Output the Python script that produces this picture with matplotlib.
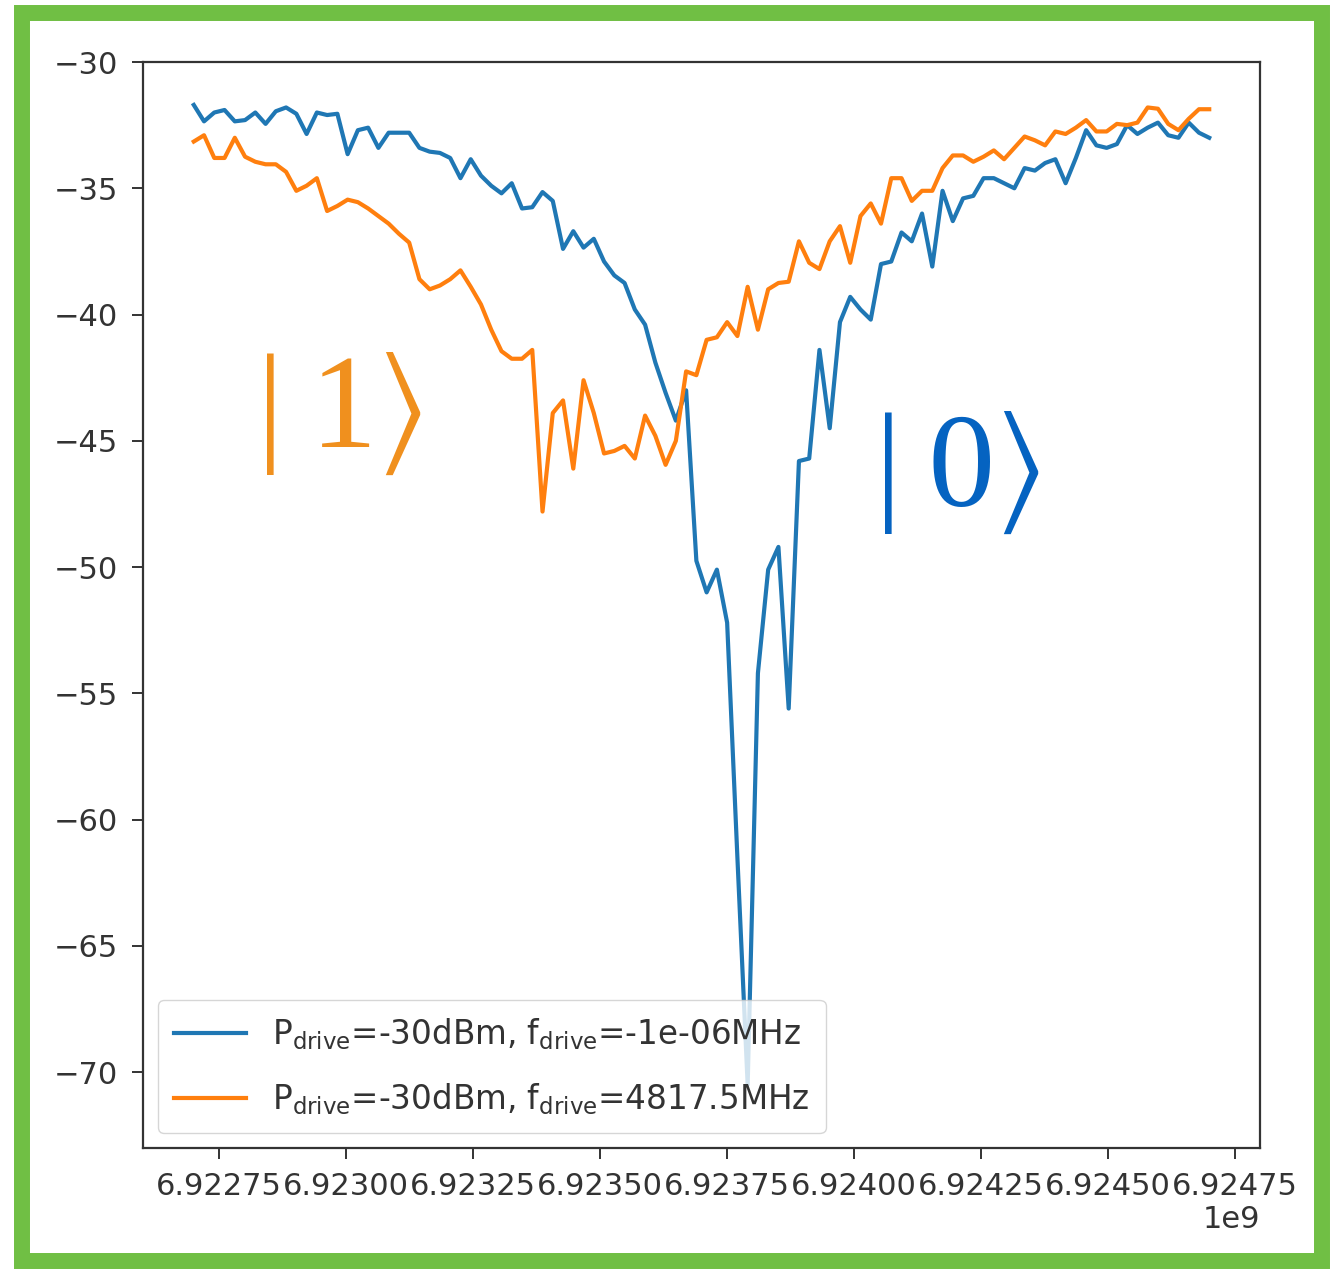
import numpy as np
import matplotlib.pyplot as plt
from matplotlib.patches import Rectangle

# frequency sweep (Hz)
freq = np.linspace(6.9227e9, 6.9247e9, 100)

# transmission (dB), qubit in |0>
s21_ground = [
    -31.7, -32.35, -32.0, -31.9, -32.35, -32.3, -32.0, -32.45, -31.95, -31.8,
    -32.05, -32.85, -32.0, -32.1, -32.05, -33.65, -32.7, -32.6, -33.4, -32.8,
    -32.8, -32.8, -33.4, -33.55, -33.6, -33.8, -34.6, -33.85, -34.5, -34.9,
    -35.2, -34.8, -35.8, -35.75, -35.15, -35.5, -37.4, -36.7, -37.35, -37.0,
    -37.9, -38.45, -38.75, -39.8, -40.4, -41.9, -43.1, -44.2, -43.0, -49.75,
    -51.0, -50.1, -52.2, -61.5, -70.5, -54.2, -50.1, -49.2, -55.6, -45.8,
    -45.7, -41.4, -44.5, -40.3, -39.3, -39.8, -40.2, -38.0, -37.9, -36.75,
    -37.1, -36.0, -38.1, -35.1, -36.3, -35.4, -35.3, -34.6, -34.6, -34.8,
    -35.0, -34.2, -34.3, -34.0, -33.85, -34.8, -33.8, -32.7, -33.3, -33.4,
    -33.25, -32.5, -32.85, -32.6, -32.4, -32.9, -33.0, -32.4, -32.8, -33.0,
]

# transmission (dB), qubit driven to |1>
s21_excited = [
    -33.15, -32.9, -33.8, -33.8, -33.0, -33.75, -33.95, -34.05, -34.05, -34.35,
    -35.1, -34.9, -34.6, -35.9, -35.7, -35.45, -35.55, -35.8, -36.1, -36.4,
    -36.8, -37.15, -38.6, -39.0, -38.85, -38.6, -38.25, -38.9, -39.6, -40.6,
    -41.45, -41.75, -41.75, -41.4, -47.8, -43.9, -43.4, -46.1, -42.6, -43.9,
    -45.5, -45.4, -45.2, -45.7, -44.0, -44.8, -45.95, -45.0, -42.25, -42.4,
    -41.0, -40.9, -40.3, -40.85, -38.9, -40.6, -39.0, -38.75, -38.7, -37.1,
    -37.95, -38.2, -37.1, -36.5, -37.95, -36.1, -35.6, -36.4, -34.6, -34.6,
    -35.5, -35.1, -35.1, -34.2, -33.7, -33.7, -33.95, -33.75, -33.5, -33.85,
    -33.4, -32.95, -33.1, -33.3, -32.75, -32.85, -32.6, -32.3, -32.75, -32.75,
    -32.45, -32.5, -32.4, -31.8, -31.85, -32.45, -32.7, -32.25, -31.87, -31.87,
]

labels = [r'$\mathrm{P_{drive}}$=-30dBm, $\mathrm{f_{drive}}$=-1e-06MHz',
          r'$\mathrm{P_{drive}}$=-30dBm, $\mathrm{f_{drive}}$=4817.5MHz']

fig = plt.figure(figsize=(13.33, 12.83), dpi=100)
ax = fig.add_axes([143/1333, 1 - 1148/1283, (1260-143)/1333, (1148-62)/1283])

ax.plot(freq, s21_ground, color='#1f77b4', lw=3, label=labels[0])
ax.plot(freq, s21_excited, color='#ff7f0e', lw=3, label=labels[1])

ax.set_ylim(-73, -30)
ax.set_xticks(np.arange(6.92275e9, 6.92476e9, 0.25e6))
ax.tick_params(labelsize=22, length=8, width=1.4, colors='#333333')
ax.tick_params(axis='y', pad=10)
ax.tick_params(axis='x', pad=9)
ax.xaxis.get_offset_text().set_fontsize(22)
ax.xaxis.get_offset_text().set_color('#333333')
for s in ax.spines.values():
    s.set_linewidth(1.6)
    s.set_color('#333333')

leg = ax.legend(loc='lower left', fontsize=23.5, handlelength=2.2,
                borderpad=0.5, labelspacing=0.9, handletextpad=0.8,
                borderaxespad=0.45)
for t in leg.get_texts():
    t.set_color('#333333')

# state labels
ket_font = ['Liberation Serif', 'STIXGeneral']
fig.text(344/1333, 1 - 413/1283, '|\u20091⟩', color='#F0901E', fontsize=96,
         family=ket_font, ha='center', va='center')
fig.text(962/1333, 1 - 472/1283, '|\u20090⟩', color='#0563C1', fontsize=96,
         family=ket_font, ha='center', va='center')

# green frame
fig.patches.append(Rectangle((22/1333, 22/1283), (1322-22)/1333, (1270-22)/1283,
                             transform=fig.transFigure, fill=False,
                             edgecolor='#70BF44', lw=11.5))

fig.savefig('out.png', dpi=100)
